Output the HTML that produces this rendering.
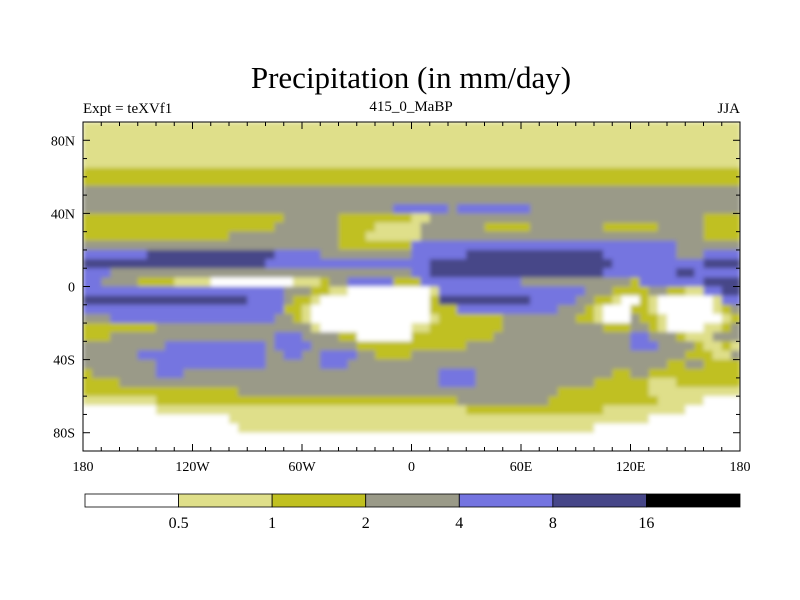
<!DOCTYPE html>
<html><head><meta charset="utf-8"><style>
body{margin:0;background:#fff;}
svg{display:block;font-family:"Liberation Serif",serif;}
</style></head><body>
<svg id="chart" width="800" height="600" viewBox="0 0 800 600">
<defs>
<clipPath id="plotclip"><rect x="83" y="122" width="657" height="329"/></clipPath>
<filter id="soft" x="0" y="0" width="1" height="1"><feGaussianBlur stdDeviation="2.2" edgeMode="duplicate"/></filter>
</defs>
<text x="411" y="88" text-anchor="middle" font-size="31">Precipitation (in mm/day)</text>
<text x="83" y="113" font-size="15">Expt = teXVf1</text>
<text x="411" y="111" text-anchor="middle" font-size="15">415_0_MaBP</text>
<text x="740" y="113" text-anchor="end" font-size="15">JJA</text>
<g clip-path="url(#plotclip)"><g id="cells" filter="url(#soft)"></g></g>
<g id="axes"></g>
<g id="cbar"></g>
</svg>
<script>
const levelColors = ["#ffffff","#dfdf8a","#c0c020","#9a9a88","#7474e0","#464688","#000000"];
const levelLabels = ["0.5","1","2","4","8","16"];
const lonTicks = [-180,-120,-60,0,60,120,180];
const lonTickLabels = ["180","120W","60W","0","60E","120E","180"];
const latTicks = [80,40,0,-40,-80];
const latTickLabels = ["80N","40N","0","40S","80S"];
// rows from 90N southward, 5deg each; "level startCol" runs over 72 cols (5deg lon)
const fieldRows = [
"1 0","1 0","1 0","1 0","1 0",
"2 0","2 0",
"3 0","3 0",
"3 0,4 34,3 40,4 41,3 49",
"2 0,3 22,2 28,1 36,3 38,2 68",
"2 0,3 21,2 28,1 32,3 37,2 44,3 49,2 57,3 63,2 68",
"2 0,3 16,2 28,1 31,3 37,2 68",
"3 0,2 28,4 36,3 65",
"4 0,5 7,4 21,3 26,4 36,5 42,4 57,3 65,4 68",
"5 0,4 20,5 38,4 58,5 68",
"4 0,3 3,4 36,5 38,4 57,5 65,4 67",
"4 0,3 2,2 6,1 10,0 14,1 23,2 26,3 27,4 29,2 34,4 37,3 48,2 60,4 61,5 68",
"4 0,3 22,2 25,1 27,0 29,1 38,4 39,3 55,2 58,3 62,2 64,1 66,4 68,5 70",
"5 0,4 18,3 22,2 23,1 25,0 26,2 38,5 39,4 49,3 54,2 56,1 58,0 59,2 61,1 62,0 63,1 69,4 70",
"4 0,2 22,1 24,0 25,2 38,4 41,3 52,2 55,1 56,0 57,2 60,1 62,0 63,1 69,2 70,3 71",
"3 0,4 3,3 21,2 23,1 24,0 25,1 38,2 39,3 46,2 54,1 56,0 57,3 60,2 61,1 63,0 64,1 70,2 71",
"2 0,3 8,1 25,0 26,1 36,2 38,3 46,2 57,3 60,2 62,1 63,0 64,1 68,2 70,3 71",
"2 0,3 3,4 21,3 24,2 28,0 30,2 36,3 45,4 60,3 62,2 65,1 66,3 69",
"3 0,4 9,3 20,4 21,3 25,2 30,3 42,4 60,3 63,2 67,1 68,2 70,1 71",
"3 0,4 6,3 20,4 22,3 24,4 26,3 30,2 32,3 36,2 66,1 69,3 71",
"3 0,4 8,3 20,4 26,3 29,2 64,3 66,2 68",
"2 0,3 1,4 8,3 11,4 39,3 43,2 58,3 60,2 62",
"2 0,3 4,4 39,3 43,2 56,1 62,2 65",
"2 0,3 17,2 52,1 62",
"1 0,2 8,3 41,2 51,1 63,0 68",
"0 0,1 8,2 42,1 57,0 66",
"0 0,1 16,0 62",
"0 0,1 17,0 56",
"0 0","0 0"
];
const NS="http://www.w3.org/2000/svg";
const X0=83,X1=740,Y0=122,Y1=451;
function xLon(l){return X0+(l+180)/360*(X1-X0);}
function yLat(l){return Y0+(90-l)/180*(Y1-Y0);}
function mk(tag,attrs,parent){const e=document.createElementNS(NS,tag);for(const k in attrs)e.setAttribute(k,attrs[k]);parent.appendChild(e);return e;}
const cells=document.getElementById('cells');
fieldRows.forEach((row,i)=>{
  const runs=row.split(',').map(s=>s.trim().split(' ').map(Number));
  const latTop=90-5*i;
  runs.forEach((r,k)=>{
    const start=r[1], end=(k+1<runs.length)?runs[k+1][1]:72;
    const lonA=-180+5*start, lonB=-180+5*end;
    const x=xLon(lonA), y=yLat(latTop);
    const rc=mk('rect',{x:x,y:y,width:xLon(lonB)-x+0.6,height:yLat(latTop-5)-y+0.6,fill:levelColors[r[0]]},cells);
    
    
  });
});
const ax=document.getElementById('axes');
const frame=mk('rect',{x:X0,y:Y0,width:X1-X0,height:Y1-Y0,fill:'none',stroke:'#000','stroke-width':1},ax);


for(let l=-180;l<=180;l+=10){
  const x=xLon(l), len=(l%60===0)?7:4;
  mk('line',{x1:x,x2:x,y1:Y1,y2:Y1-len,stroke:'#000'},ax);
  mk('line',{x1:x,x2:x,y1:Y0,y2:Y0+len,stroke:'#000'},ax);
}
for(let l=-90;l<=90;l+=10){
  const y=yLat(l), len=(l%40===0)?7:4;
  mk('line',{x1:X0,x2:X0+len,y1:y,y2:y,stroke:'#000'},ax);
  mk('line',{x1:X1,x2:X1-len,y1:y,y2:y,stroke:'#000'},ax);
}
lonTicks.forEach((l,i)=>{
  const t=mk('text',{x:xLon(l),y:471,'text-anchor':'middle','font-size':14},ax);
  t.textContent=lonTickLabels[i];
  
  
});
latTicks.forEach((l,i)=>{
  const t=mk('text',{x:75,y:yLat(l)+5,'text-anchor':'end','font-size':14},ax);
  t.textContent=latTickLabels[i];
  
  
});
const cb=document.getElementById('cbar');
const CB0=85,CB1=740,bw=(CB1-CB0)/levelColors.length;
levelColors.forEach((c,i)=>{
  const r=mk('rect',{x:CB0+i*bw,y:494,width:bw,height:13,fill:c,stroke:'#000','stroke-width':0.8},cb);
  
  
});
levelLabels.forEach((s,i)=>{
  const t=mk('text',{x:CB0+(i+1)*bw,y:528,'text-anchor':'middle','font-size':16},cb);
  t.textContent=s;
  
  
});
</script>
</body></html>
